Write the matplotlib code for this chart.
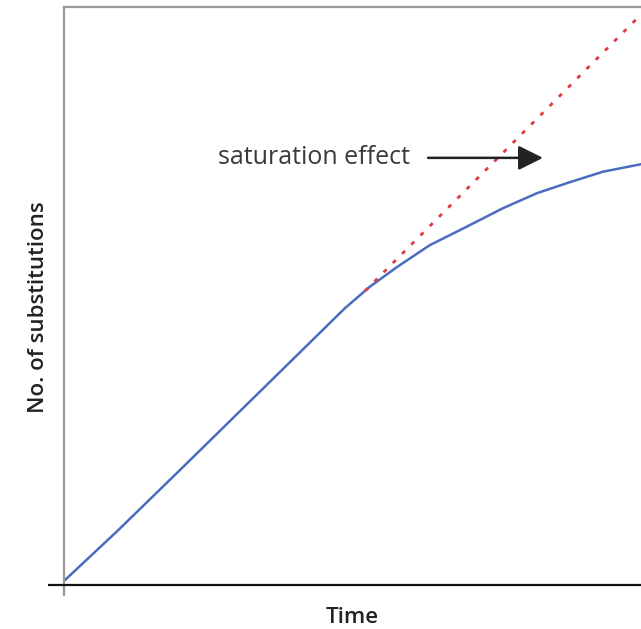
import matplotlib.pyplot as plt

# data (arbitrary units)
time_pts = [0.0, 0.92, 2.0, 3.40, 4.87, 5.30, 5.77, 6.34, 7.04, 7.61, 8.20, 8.77, 9.34, 10.0]
subs_pts = [0.07, 0.93, 1.98, 3.35, 4.79, 5.16, 5.50, 5.88, 6.23, 6.52, 6.78, 6.97, 7.15, 7.28]

linear_time = [5.22, 10.0]
linear_subs = [5.09, 9.87]

arrow_start = (6.31, 7.39)
arrow_end = (8.30, 7.39)
label_pos = (2.67, 7.39)

plt.rcParams['font.family'] = ['Open Sans', 'DejaVu Sans']

fig = plt.figure(figsize=(6.41, 6.29), dpi=100)
ax = fig.add_axes([64 / 641, 1 - 585 / 629, 1 - 64 / 641, (585 - 7) / 629])

ax.plot(time_pts, subs_pts, color='#4a6cc0', lw=1.8,
        solid_capstyle='round', solid_joinstyle='round')
ax.plot(linear_time, linear_subs, color='#e23a44', lw=2.0,
        linestyle=(0, (1.5, 3.2)), clip_on=False)

ax.annotate('', xy=arrow_end, xytext=arrow_start,
            arrowprops=dict(arrowstyle='-|>,head_length=1.5,head_width=0.75',
                            color='#222222', lw=1.8, shrinkA=0, shrinkB=0))
ax.text(label_pos[0], label_pos[1], 'saturation effect', fontsize=18,
        color='#3a3a3a', ha='left', va='center')

ax.set_xlim(0, 10)
ax.set_ylim(0, 10)

ax.spines['right'].set_visible(False)
ax.spines['left'].set_color('#999999')
ax.spines['left'].set_linewidth(1.6)
ax.spines['top'].set_color('#999999')
ax.spines['top'].set_linewidth(1.6)
ax.spines['bottom'].set_color('#111111')
ax.spines['bottom'].set_linewidth(1.6)

ax.set_xticks([0])
ax.set_yticks([0])
ax.set_xticklabels([])
ax.set_yticklabels([])
ax.tick_params(axis='x', direction='out', length=8, width=1.6, color='#999999')
ax.tick_params(axis='y', direction='out', length=11.5, width=1.6, color='#111111')

ax.set_xlabel('Time', fontsize=16, fontweight='semibold', color='#222222', labelpad=4)
ax.set_ylabel('No. of substitutions', fontsize=16, fontweight='semibold',
              color='#222222')
ax.yaxis.set_label_coords(-0.026, 0.481)

fig.savefig('out.png', dpi=100)
